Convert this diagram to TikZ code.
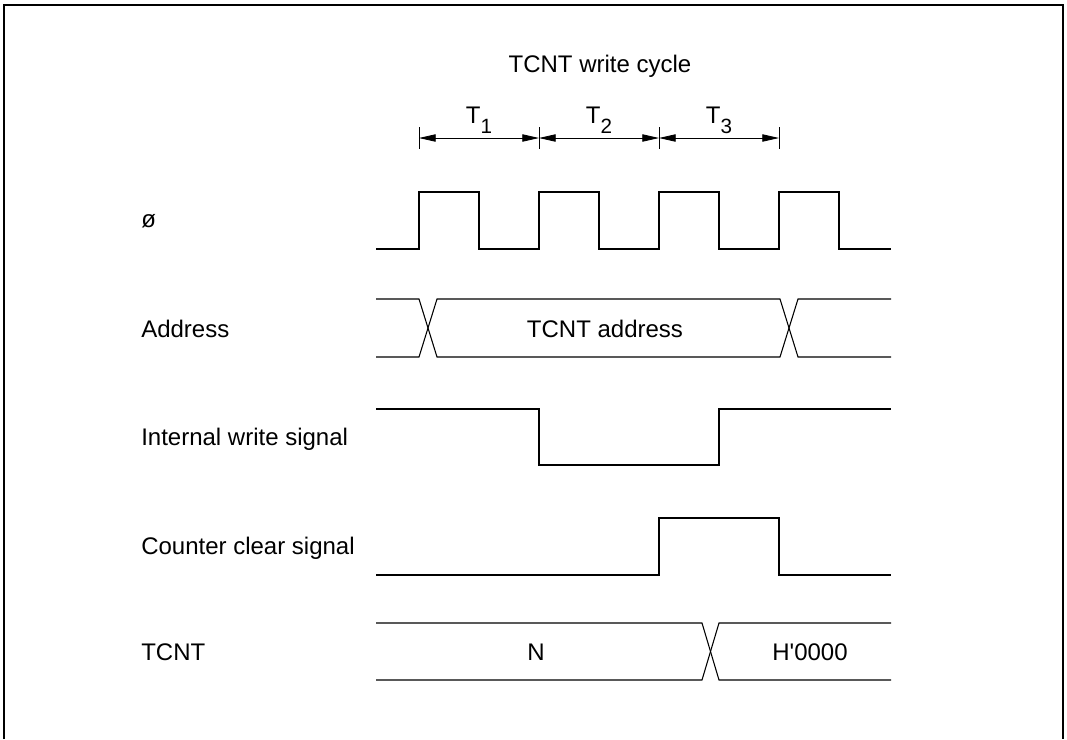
\documentclass[tikz,border=0pt]{standalone}
\usepackage{fontspec}
\setmainfont{Liberation Sans}
\usetikzlibrary{arrows.meta,positioning}

\newcommand{\tsub}[1]{T\raisebox{-8pt}{\fontsize{15.5}{16}\selectfont #1}}

\begin{document}
\begin{tikzpicture}[
  x=0.75pt, y=-0.75pt,
  font=\fontsize{18}{21}\selectfont,
  wave/.style={line width=0.8pt, line join=miter},
  sig/.style={anchor=base west, inner sep=0pt},
  inwave/.style={anchor=base, inner sep=0pt},
  tick/.style={line width=0.6pt},
  period/.style={{Triangle[length=12.5pt,width=5.5pt]}-{Triangle[length=12.5pt,width=5.5pt]}, line width=0.6pt},
  frame/.style={line width=1.1pt}
]
\useasboundingbox (0,0) rectangle (1067,739);
\draw[frame] (4,739) |- (1063,5) -- (1063,739);

\node[inwave] (title) at (600,72) {TCNT write cycle};

\coordinate (c0) at (419,138);
\coordinate (c1) at (539,138);
\coordinate (c2) at (659,138);
\coordinate (c3) at (779,138);
\draw[tick] (419,127) -- (419,149);
\draw[tick] (539,127) -- (539,149);
\draw[tick] (659,127) -- (659,149);
\draw[tick] (779,127) -- (779,149);
\draw[period] (c0) -- (c1);
\draw[period] (c1) -- (c2);
\draw[period] (c2) -- (c3);
\node[inwave] (t1) at (479,123) {\tsub{1}};
\node[inwave] (t2) at (599,123) {\tsub{2}};
\node[inwave] (t3) at (719,123) {\tsub{3}};

\node[sig] (phi) at (141,227) {ø};
\node[sig] (addr) at (141,337) {Address};
\node[sig] (iws) at (141,445) {Internal write signal};
\node[sig] (ccs) at (141,554) {Counter clear signal};
\node[sig] (tcnt) at (141,660) {TCNT};

\draw[wave] (376,249) -| (419,192) -| (479,249) -| (539,192) -| (599,249) -| (659,192) -| (719,249) -| (779,192) -| (839,249) -- (891,249);

\draw[wave] (376,299) -- (419,299) -- (437,357) -- (780,357) -- (798,299) -- (891,299);
\draw[wave] (376,357) -- (419,357) -- (437,299) -- (780,299) -- (798,357) -- (891,357);
\node[inwave] (addrval) at (605,337) {TCNT address};

\draw[wave] (376,409) -| (539,465) -| (719,409) -- (891,409);

\draw[wave] (376,575) -| (659,518) -| (779,575) -- (891,575);

\draw[wave] (376,623) -- (702,623) -- (719,680) -- (891,680);
\draw[wave] (376,680) -- (702,680) -- (719,623) -- (891,623);
\node[inwave] (nval) at (536,660) {N};
\node[inwave] (zval) at (810,660) {H\textquotesingle 0000};
\end{tikzpicture}
\end{document}
